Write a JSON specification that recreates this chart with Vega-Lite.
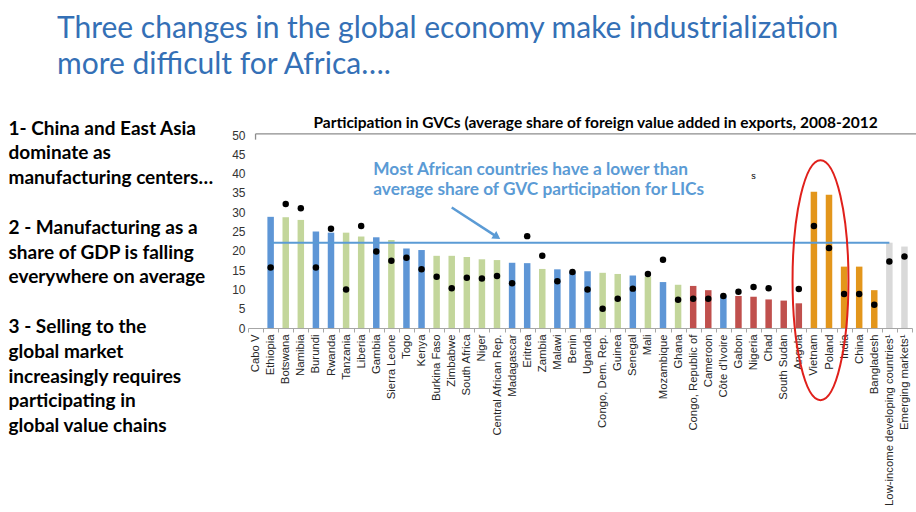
{
  "$schema": "https://vega.github.io/schema/vega-lite/v6.json",
  "autosize": {"type": "none"},
  "padding": {"left": 248, "top": 135, "right": 4, "bottom": 184},
  "width": 664,
  "height": 193,
  "background": "white",
  "config": {"view": {"stroke": null}},
  "title": {
    "text": ["Three changes in the global economy make industrialization", "more difficult for Africa…."],
    "anchor": "start",
    "frame": "group",
    "dx": -191,
    "font": "Lato",
    "fontSize": 30,
    "fontWeight": "normal",
    "color": "#3470b6",
    "lineHeight": 36,
    "baseline": "bottom",
    "offset": 6
  },
  "data": {
    "values": [
      {"country": "Cabo V", "group": "Non-resource-intensive", "gvc": null, "dot": null},
      {"country": "Ethiopia", "group": "Non-resource-intensive", "gvc": 28.8, "dot": 15.7},
      {"country": "Botswana", "group": "Other resource-intensive", "gvc": 28.7, "dot": 32.1},
      {"country": "Namibia", "group": "Other resource-intensive", "gvc": 28.0, "dot": 31.0},
      {"country": "Burundi", "group": "Non-resource-intensive", "gvc": 25.0, "dot": 15.7},
      {"country": "Rwanda", "group": "Non-resource-intensive", "gvc": 24.7, "dot": 25.7},
      {"country": "Tanzania", "group": "Other resource-intensive", "gvc": 24.7, "dot": 10.0},
      {"country": "Liberia", "group": "Other resource-intensive", "gvc": 23.7, "dot": 26.4},
      {"country": "Gambia", "group": "Non-resource-intensive", "gvc": 23.5, "dot": 19.8},
      {"country": "Sierra Leone", "group": "Other resource-intensive", "gvc": 22.8, "dot": 17.4},
      {"country": "Togo", "group": "Non-resource-intensive", "gvc": 20.6, "dot": 18.2},
      {"country": "Kenya", "group": "Non-resource-intensive", "gvc": 20.2, "dot": 15.2},
      {"country": "Burkina Faso", "group": "Other resource-intensive", "gvc": 18.7, "dot": 13.3},
      {"country": "Zimbabwe", "group": "Other resource-intensive", "gvc": 18.7, "dot": 10.3},
      {"country": "South Africa", "group": "Other resource-intensive", "gvc": 18.4, "dot": 13.0},
      {"country": "Niger", "group": "Other resource-intensive", "gvc": 17.8, "dot": 12.8},
      {"country": "Central African Rep.", "group": "Other resource-intensive", "gvc": 17.6, "dot": 13.5},
      {"country": "Madagascar", "group": "Non-resource-intensive", "gvc": 16.9, "dot": 11.6},
      {"country": "Eritrea", "group": "Non-resource-intensive", "gvc": 16.8, "dot": 23.8},
      {"country": "Zambia", "group": "Other resource-intensive", "gvc": 15.3, "dot": 18.7},
      {"country": "Malawi", "group": "Non-resource-intensive", "gvc": 15.2, "dot": 12.1},
      {"country": "Benin", "group": "Non-resource-intensive", "gvc": 14.7, "dot": 14.5},
      {"country": "Uganda", "group": "Non-resource-intensive", "gvc": 14.7, "dot": 10.0},
      {"country": "Congo, Dem. Rep.", "group": "Other resource-intensive", "gvc": 14.3, "dot": 5.0},
      {"country": "Guinea", "group": "Other resource-intensive", "gvc": 14.0, "dot": 7.6},
      {"country": "Senegal", "group": "Non-resource-intensive", "gvc": 13.6, "dot": 10.2},
      {"country": "Mali", "group": "Other resource-intensive", "gvc": 13.3, "dot": 14.0},
      {"country": "Mozambique", "group": "Non-resource-intensive", "gvc": 11.9, "dot": 17.7},
      {"country": "Ghana", "group": "Other resource-intensive", "gvc": 11.2, "dot": 7.3},
      {"country": "Congo, Republic of", "group": "Oil exporters", "gvc": 10.9, "dot": 7.6},
      {"country": "Cameroon", "group": "Oil exporters", "gvc": 9.8, "dot": 7.6},
      {"country": "Côte d'Ivoire", "group": "Non-resource-intensive", "gvc": 8.5, "dot": 8.3},
      {"country": "Gabon", "group": "Oil exporters", "gvc": 8.3, "dot": 9.4},
      {"country": "Nigeria", "group": "Oil exporters", "gvc": 8.1, "dot": 10.6},
      {"country": "Chad", "group": "Oil exporters", "gvc": 7.4, "dot": 10.3},
      {"country": "South Sudan", "group": "Oil exporters", "gvc": 7.1, "dot": null},
      {"country": "Angola", "group": "Oil exporters", "gvc": 6.4, "dot": 10.1},
      {"country": "Vietnam", "group": "Comparators", "gvc": 35.3, "dot": 26.4},
      {"country": "Poland", "group": "Comparators", "gvc": 34.5, "dot": 20.7},
      {"country": "India", "group": "Comparators", "gvc": 15.9, "dot": 8.8},
      {"country": "China", "group": "Comparators", "gvc": 15.9, "dot": 8.8},
      {"country": "Bangladesh", "group": "Comparators", "gvc": 9.8, "dot": 6.0},
      {"country": "Low-income developing countries¹", "group": "Averages", "gvc": 22.1, "dot": 17.2},
      {"country": "Emerging markets¹", "group": "Averages", "gvc": 21.1, "dot": 18.5}
    ]
  },
  "encoding": {
    "y": {
      "type": "quantitative",
      "scale": {"domain": [0, 50], "nice": false},
      "axis": {
        "values": [0, 5, 10, 15, 20, 25, 30, 35, 40, 45, 50],
        "labelOverlap": false,
        "labelFlush": false,
        "grid": false,
        "domain": false,
        "ticks": false,
        "labelPadding": 3,
        "labelFont": "Liberation Sans",
        "labelFontSize": 12,
        "labelColor": "#333333",
        "title": ["1- China and East Asia", "dominate as", "manufacturing centers…", "\u200b", "2 - Manufacturing as a", "share of GDP is falling", "everywhere on average", "\u200b", "3 - Selling to the", "global market", "increasingly requires", "participating in", "global value chains"],
        "titleAngle": 0,
        "titleAlign": "left",
        "titleBaseline": "top",
        "titleX": -240,
        "titleY": -16,
        "titleFont": "Lato",
        "titleFontSize": 19,
        "titleFontWeight": "bold",
        "titleColor": "#000000",
        "titleLineHeight": 24.8
      }
    }
  },
  "layer": [
    {
      "mark": {"type": "bar", "width": {"band": 0.43}},
      "encoding": {
        "x": {
          "field": "country",
          "type": "nominal",
          "sort": null,
          "scale": {
            "paddingInner": 0,
            "paddingOuter": 0,
            "domain": ["Cabo V", "Ethiopia", "Botswana", "Namibia", "Burundi", "Rwanda", "Tanzania", "Liberia", "Gambia", "Sierra Leone", "Togo", "Kenya", "Burkina Faso", "Zimbabwe", "South Africa", "Niger", "Central African Rep.", "Madagascar", "Eritrea", "Zambia", "Malawi", "Benin", "Uganda", "Congo, Dem. Rep.", "Guinea", "Senegal", "Mali", "Mozambique", "Ghana", "Congo, Republic of", "Cameroon", "Côte d'Ivoire", "Gabon", "Nigeria", "Chad", "South Sudan", "Angola", "Vietnam", "Poland", "India", "China", "Bangladesh", "Low-income developing countries¹", "Emerging markets¹"]
          },
          "axis": {
            "title": null,
            "labelAngle": -90,
            "labelFont": "Liberation Sans",
            "labelFontSize": 11.3,
            "labelColor": "#262626",
            "labelPadding": 2,
            "labelOverlap": false,
            "labelLimit": 300,
            "tickBand": "extent",
            "tickSize": 4,
            "tickColor": "#a6a6a6",
            "domainColor": "#a6a6a6",
            "grid": false
          }
        },
        "y": {"field": "gvc"},
        "color": {
          "field": "group",
          "type": "nominal",
          "legend": null,
          "scale": {
            "domain": ["Non-resource-intensive", "Other resource-intensive", "Oil exporters", "Comparators", "Averages"],
            "range": ["#5e96d6", "#c3d69b", "#c0504d", "#e3961b", "#d9d9d9"]
          }
        }
      }
    },
    {
      "mark": {"type": "circle", "size": 42, "color": "#000000", "opacity": 1},
      "encoding": {
        "x": {"field": "country", "type": "nominal", "sort": null},
        "y": {"field": "dot"}
      }
    },
    {
      "data": {"values": [{"from": "Ethiopia", "to": "Low-income developing countries¹", "level": 22.1}]},
      "mark": {"type": "rule", "color": "#5b9bd5", "strokeWidth": 2},
      "encoding": {
        "x": {"field": "from", "type": "nominal"},
        "x2": {"field": "to"},
        "y": {"field": "level"}
      }
    },
    {
      "data": {"values": [{"from": "Cabo V", "to": "Emerging markets¹", "level": 50.3}]},
      "mark": {"type": "rule", "color": "#8c8c8c", "strokeWidth": 1.3, "x2Offset": 12},
      "encoding": {
        "x": {"field": "from", "type": "nominal"},
        "x2": {"field": "to"},
        "y": {"field": "level"}
      }
    },
    {
      "data": {"values": [{"at": "Cabo V", "top": 50.3, "bottom": 48.8}]},
      "mark": {"type": "rule", "color": "#8c8c8c", "strokeWidth": 1.3},
      "encoding": {
        "x": {"field": "at", "type": "nominal"},
        "y": {"field": "top"},
        "y2": {"field": "bottom"}
      }
    },
    {
      "data": {"values": [{"x1": "Zimbabwe", "y1": 31.2, "x2": "Central African Rep.", "y2": 23.6}]},
      "mark": {"type": "rule", "color": "#5b9bd5", "strokeWidth": 2.5},
      "encoding": {
        "x": {"field": "x1", "type": "nominal"},
        "x2": {"field": "x2"},
        "y": {"field": "y1"},
        "y2": {"field": "y2"}
      }
    },
    {
      "data": {"values": [{"x": "Central African Rep.", "y": 23.6}]},
      "mark": {"type": "point", "shape": "triangle-right", "filled": true, "size": 80, "angle": 34, "color": "#5b9bd5", "opacity": 1},
      "encoding": {
        "x": {"field": "x", "type": "nominal"},
        "y": {"field": "y"}
      }
    },
    {
      "data": {"values": [
        {"x": "Gambia", "y": 40.9, "label": "Most African countries have a lower than"},
        {"x": "Gambia", "y": 35.75, "label": "average share of GVC participation for LICs"}
      ]},
      "mark": {"type": "text", "align": "left", "baseline": "middle", "dx": -3, "font": "Lato", "fontSize": 17.3, "fontWeight": "bold", "color": "#5b9bd5"},
      "encoding": {
        "x": {"field": "x", "type": "nominal"},
        "y": {"field": "y"},
        "text": {"field": "label"}
      }
    },
    {
      "data": {"values": [{"x": "Uganda", "y": 53.0, "label": "Participation in GVCs (average share of foreign value added in exports, 2008-2012"}]},
      "mark": {"type": "text", "align": "center", "baseline": "middle", "dx": 8, "font": "Lato", "fontSize": 15.5, "fontWeight": "bold", "color": "#000000"},
      "encoding": {
        "x": {"field": "x", "type": "nominal"},
        "y": {"field": "y"},
        "text": {"field": "label"}
      }
    },
    {
      "data": {"values": [{"x": "Nigeria", "y": 39.4, "label": "s"}]},
      "mark": {"type": "text", "align": "center", "baseline": "middle", "font": "Liberation Sans", "fontSize": 9, "color": "#000000"},
      "encoding": {
        "x": {"field": "x", "type": "nominal"},
        "y": {"field": "y"},
        "text": {"field": "label"}
      }
    },
    {
      "data": {"values": [{"x": "Vietnam", "y": 12.4}]},
      "mark": {
        "type": "point",
        "shape": "M0,-1C0.1287,-1,0.233,-0.5523,0.233,0C0.233,0.5523,0.1287,1,0,1C-0.1287,1,-0.233,0.5523,-0.233,0C-0.233,-0.5523,-0.1287,-1,0,-1Z",
        "size": 57600,
        "filled": false,
        "color": "#e0201b",
        "strokeWidth": 2,
        "opacity": 1,
        "xOffset": 6.6
      },
      "encoding": {
        "x": {"field": "x", "type": "nominal"},
        "y": {"field": "y"}
      }
    }
  ]
}
